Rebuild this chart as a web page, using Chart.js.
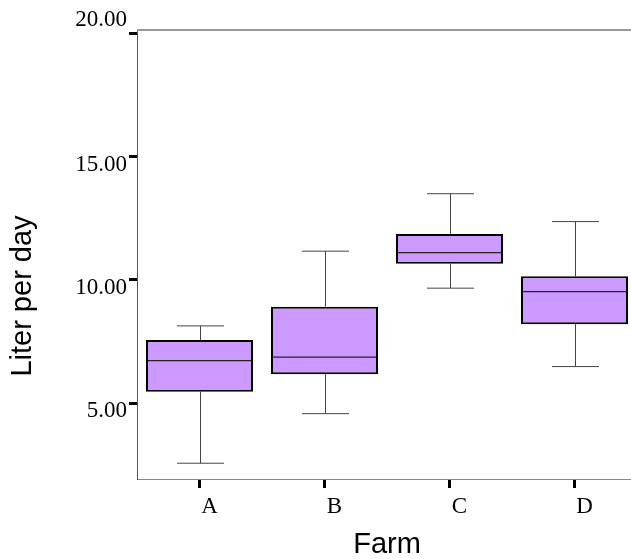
<!DOCTYPE html>
<html>
<head>
    <title>Liter per day by Farm</title>
    <script src="https://cdn.jsdelivr.net/npm/chart.js@4.4.0/dist/chart.umd.min.js"></script>
    <style>
        html, body { margin: 0; padding: 0; overflow: hidden; background: #fff; }
        #wrap { position: absolute; left: 0; top: 0; }
    </style>
</head>
<body>
    <div id="wrap"><canvas id="boxChart" width="637" height="559"></canvas></div>
    <script>
        // values
        var farms = ['A', 'B', 'C', 'D'];
        var lowWhisker = [2.56, 4.57, 9.66, 6.48];
        var q1 = [5.46, 6.17, 10.65, 8.20];
        var medians = [6.72, 6.86, 11.10, 9.52];
        var q3 = [7.56, 8.91, 11.86, 10.14];
        var highWhisker = [8.13, 11.16, 13.49, 12.36];
        var yTicks = [5, 10, 15, 20];

        var serif = "'Liberation Serif', 'Times New Roman', serif";
        var sans = "'Liberation Sans', Arial, sans-serif";

        // whiskers go under the boxes, medians and extra text on top
        var boxExtras = {
            id: 'boxExtras',
            beforeDatasetsDraw: function(chart) {
                var ctx = chart.ctx;
                var y = chart.scales.y;
                var meta = chart.getDatasetMeta(0);
                ctx.save();
                ctx.strokeStyle = '#444';
                ctx.lineWidth = 1;
                meta.data.forEach(function(bar, i) {
                    var x = Math.round(bar.x) + 0.5;
                    var yLo = y.getPixelForValue(lowWhisker[i]);
                    var yHi = y.getPixelForValue(highWhisker[i]);
                    ctx.beginPath();
                    ctx.moveTo(x, y.getPixelForValue(q1[i]));
                    ctx.lineTo(x, yLo);
                    ctx.moveTo(x, y.getPixelForValue(q3[i]));
                    ctx.lineTo(x, yHi);
                    ctx.moveTo(x - 23.5, yLo);
                    ctx.lineTo(x + 23.5, yLo);
                    ctx.moveTo(x - 23.5, yHi);
                    ctx.lineTo(x + 23.5, yHi);
                    ctx.stroke();
                });
                ctx.restore();
            },
            afterDatasetsDraw: function(chart) {
                var ctx = chart.ctx;
                var y = chart.scales.y;
                var meta = chart.getDatasetMeta(0);
                ctx.save();
                ctx.strokeStyle = '#222';
                ctx.lineWidth = 1.2;
                meta.data.forEach(function(bar, i) {
                    var half = bar.width / 2 - 2;
                    var ym = y.getPixelForValue(medians[i]);
                    ctx.beginPath();
                    ctx.moveTo(bar.x - half, ym);
                    ctx.lineTo(bar.x + half, ym);
                    ctx.stroke();
                });
                ctx.restore();
            },
            afterDraw: function(chart) {
                var ctx = chart.ctx;
                var area = chart.chartArea;
                var y = chart.scales.y;
                ctx.save();
                // top frame line
                ctx.strokeStyle = '#999';
                ctx.lineWidth = 2;
                ctx.beginPath();
                ctx.moveTo(area.left, area.top);
                ctx.lineTo(area.right, area.top);
                ctx.stroke();

                // the top label sits above its tick
                ctx.fillStyle = '#000';
                ctx.font = '23px ' + serif;
                ctx.textAlign = 'right';
                ctx.textBaseline = 'middle';
                ctx.fillText('20.00', 127, y.getPixelForValue(20) - 13);

                // y axis title
                ctx.translate(23, 296);
                ctx.rotate(-Math.PI / 2);
                ctx.font = '29px ' + sans;
                ctx.textAlign = 'center';
                ctx.fillText('Liter per day', 0, 0);
                ctx.restore();
            }
        };

        var boxData = farms.map(function(f, i) { return [q1[i], q3[i]]; });

        var ctx = document.getElementById('boxChart').getContext('2d');
        var boxChart = new Chart(ctx, {
            type: 'bar',
            data: {
                labels: farms,
                datasets: [{
                    label: 'Liter per day',
                    data: boxData,
                    backgroundColor: '#CC99FF',
                    borderColor: '#000',
                    borderWidth: 2,
                    borderSkipped: false,
                    barPercentage: 0.856,
                    categoryPercentage: 1
                }]
            },
            options: {
                responsive: false,
                animation: false,
                devicePixelRatio: 1,
                layout: { padding: { top: 30, left: 0, right: 0, bottom: 0 } },
                plugins: {
                    legend: { display: false },
                    tooltip: { enabled: false }
                },
                scales: {
                    x: {
                        offset: true,
                        grid: {
                            offset: false,
                            drawOnChartArea: false,
                            tickLength: 9,
                            tickWidth: 3,
                            tickColor: '#000'
                        },
                        border: { display: true, color: '#888', width: 1 },
                        ticks: {
                            color: '#000',
                            font: { family: serif, size: 23 },
                            padding: 5,
                            labelOffset: 10
                        },
                        title: {
                            display: true,
                            text: 'Farm',
                            color: '#000',
                            font: { family: sans, size: 29, lineHeight: 1 },
                            padding: { top: 0, bottom: 0 }
                        },
                        afterFit: function(scale) { scale.height = 80; }
                    },
                    y: {
                        min: 1.92,
                        max: 20.13,
                        afterBuildTicks: function(scale) {
                            scale.ticks = yTicks.map(function(v) { return { value: v }; });
                        },
                        grid: {
                            drawOnChartArea: false,
                            tickLength: 8,
                            tickWidth: 3,
                            tickColor: '#000'
                        },
                        border: { display: true, color: '#555', width: 1 },
                        ticks: {
                            color: '#000',
                            font: { family: serif, size: 23 },
                            padding: 2,
                            labelOffset: 8,
                            callback: function(value) {
                                return value === 20 ? '' : value.toFixed(2);
                            }
                        },
                        afterFit: function(scale) { scale.width = 137; }
                    }
                }
            },
            plugins: [boxExtras]
        });
    </script>
</body>
</html>
